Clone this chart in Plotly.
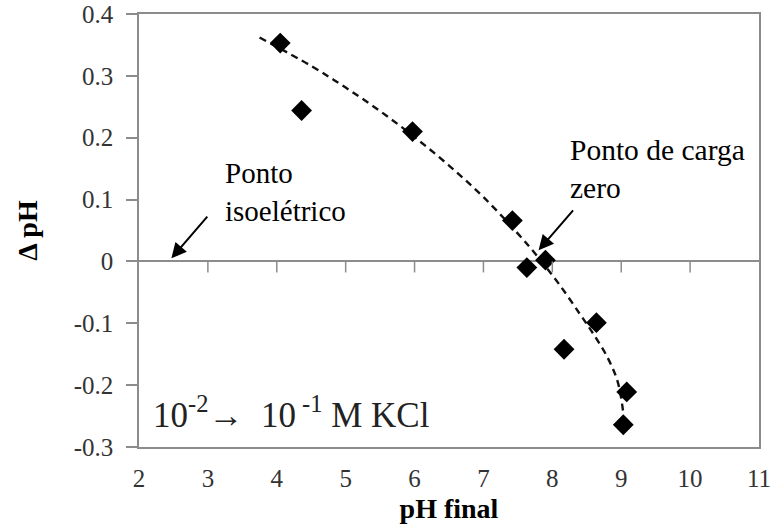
import plotly.graph_objects as go

# Measured points (pH final, delta pH)
ph_final = [4.05, 4.36, 5.97, 7.42, 7.63, 7.90, 8.17, 8.64, 9.08, 9.03]
delta_ph = [0.353, 0.244, 0.210, 0.066, -0.010, 0.002, -0.142, -0.099, -0.211, -0.264]

# Dashed trend curve
trend_x = [3.75, 4.5, 5.0, 5.5, 6.0, 6.5, 7.0, 7.5, 7.8, 8.1, 8.4, 8.6, 8.8, 8.95, 9.03]
trend_y = [0.362, 0.316, 0.281, 0.243, 0.201, 0.155, 0.104, 0.045, 0.006, -0.037, -0.085, -0.118, -0.155, -0.195, -0.245]

x_ticks = [2, 3, 4, 5, 6, 7, 8, 9, 10, 11]
x_ticktext = ["2", "3", "4", "5", "6", "7", "8", "9", "10", "11"]
y_ticks = [0.4, 0.3, 0.2, 0.1, 0.0, -0.1, -0.2, -0.3]
y_ticktext = ["0.4", "0.3", "0.2", "0.1", "0", "-0.1", "-0.2", "-0.3"]

SERIF = "Liberation Serif, Times New Roman, serif"
GRAY = "#8c8c8c"

fig = go.Figure()
fig.add_trace(go.Scatter(x=trend_x, y=trend_y, mode="lines",
                         line=dict(color="#111", width=2.4, dash="7px,5px", shape="spline"),
                         hoverinfo="skip", showlegend=False))
fig.add_trace(go.Scatter(x=ph_final, y=delta_ph, mode="markers",
                         marker=dict(symbol="diamond", size=16, color="black"),
                         showlegend=False))

# tick marks hanging below the zero line
for xv in x_ticks[1:-1]:
    fig.add_shape(type="line", xref="x", yref="y", x0=xv, x1=xv,
                  ysizemode="pixel", yanchor=0, y0=0, y1=-11,
                  line=dict(color=GRAY, width=1.5))

# annotations
fig.add_annotation(x=3.22, y=0.1115, xref="x", yref="y", text="Ponto<br>isoelétrico",
                   showarrow=False, xanchor="left", yanchor="middle", align="left",
                   font=dict(family=SERIF, size=29, color="black"))
fig.add_annotation(x=2.47, y=0.005, ax=3.01, ay=0.075, xref="x", yref="y",
                   axref="x", ayref="y", text="", showarrow=True,
                   arrowhead=2, arrowsize=1.5, arrowwidth=2, arrowcolor="black")
fig.add_annotation(x=8.23, y=0.149, xref="x", yref="y", text="Ponto de carga<br>zero",
                   showarrow=False, xanchor="left", yanchor="middle", align="left",
                   font=dict(family=SERIF, size=29.5, color="black"))
fig.add_annotation(x=7.80, y=0.018, ax=8.32, ay=0.085, xref="x", yref="y",
                   axref="x", ayref="y", text="", showarrow=True,
                   arrowhead=2, arrowsize=1.5, arrowwidth=2, arrowcolor="black")
fig.add_annotation(x=2.18, y=-0.245, xref="x", yref="y",
                   text="10<sup>-2</sup>\u2192  10<sup> -1</sup> M KCl",
                   showarrow=False, xanchor="left", yanchor="middle",
                   font=dict(family=SERIF, size=35, color="#222"))

fig.update_layout(
    width=778, height=532,
    margin=dict(l=139, r=19, t=14, b=85),
    paper_bgcolor="white", plot_bgcolor="white",
    font=dict(family=SERIF, color="#333"),
    xaxis=dict(range=[2, 11], tickvals=x_ticks, ticktext=x_ticktext, automargin=False,
               showgrid=False, zeroline=False, showline=True, mirror=True,
               linecolor=GRAY, linewidth=1.5, ticks="outside", ticklen=8,
               tickcolor="rgba(0,0,0,0)", tickfont=dict(family=SERIF, size=25, color="#333"),
               title=dict(text="<b>pH final</b>", font=dict(family=SERIF, size=28, color="black"), standoff=8)),
    yaxis=dict(range=[-0.3, 0.4], tickvals=y_ticks, ticktext=y_ticktext, automargin=False,
               showgrid=False, zeroline=True, zerolinecolor=GRAY, zerolinewidth=1.5,
               showline=True, mirror=True, linecolor=GRAY, linewidth=1.5,
               ticks="outside", ticklen=11, tickcolor=GRAY, tickwidth=1.5,
               ticklabelstandoff=8, tickfont=dict(family=SERIF, size=25, color="#333"),
               title=dict(text="<b>\u0394 pH</b>", font=dict(family=SERIF, size=28, color="black"), standoff=28)),
)

fig.write_html("out.html", config={"displayModeBar": False},
               post_script="document.body.style.margin='0px';")
